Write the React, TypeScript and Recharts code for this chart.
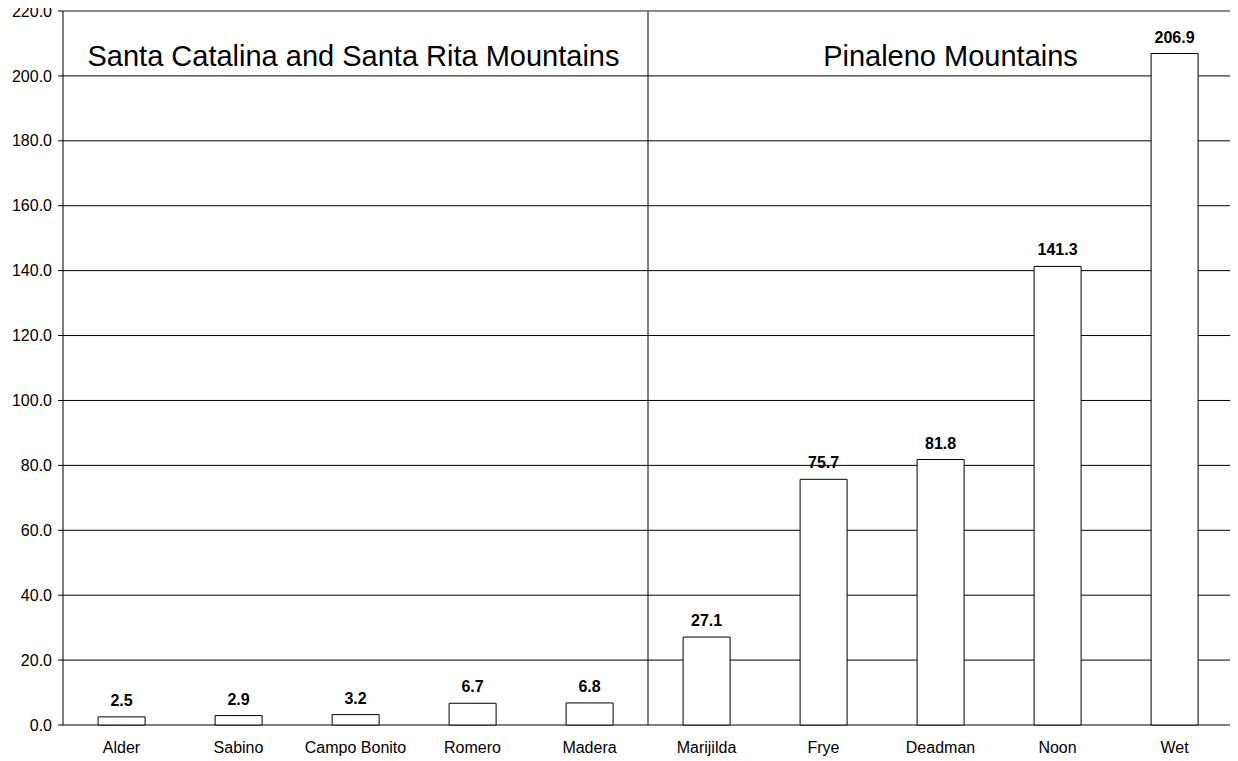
import React from 'react';
import {
  BarChart, Bar, XAxis, YAxis, CartesianGrid, ReferenceLine, ReferenceArea, LabelList,
} from 'recharts';

const categories = ['Alder', 'Sabino', 'Campo Bonito', 'Romero', 'Madera', 'Marijilda', 'Frye', 'Deadman', 'Noon', 'Wet'];
const values = [2.5, 2.9, 3.2, 6.7, 6.8, 27.1, 75.7, 81.8, 141.3, 206.9];
const yTicks = [0, 20, 40, 60, 80, 100, 120, 140, 160, 180, 200, 220];
const boundaryTicks = [0, 1, 2, 3, 4, 5, 6, 7, 8, 9, 10];
const groupTitles = ['Santa Catalina and Santa Rita Mountains', 'Pinaleno Mountains'];

const data = categories.map((name, i) => ({ name, value: values[i], order: i }));

const FONT = '"Liberation Sans", Arial, Helvetica, sans-serif';

export default function App() {
  return (
    <div style={{ width: 1238, height: 761, margin: '-8px 0 0 -8px', fontFamily: FONT }}>
      <BarChart
        width={1238}
        height={761}
        data={data}
        margin={{ top: 11, right: 5, left: 0, bottom: 6 }}
        barCategoryGap="30%"
      >
        <CartesianGrid vertical={false} stroke="#000" strokeWidth={1} xAxisId="cat" />
        <XAxis
          xAxisId="a"
          type="number"
          dataKey="order"
          domain={[0, 10]}
          ticks={boundaryTicks}
          allowDataOverflow
          height={0}
          tickFormatter={() => ''}
          tickSize={5}
          tickLine={{ stroke: '#000' }}
          axisLine={{ stroke: '#000' }}
        />
        <XAxis
          xAxisId="cat"
          dataKey="name"
          height={30}
          tickLine={false}
          axisLine={false}
          tickSize={6}
          tickMargin={11}
          interval={0}
          tick={{ fill: '#000', fontSize: 16, fontFamily: FONT }}
        />
        <YAxis
          domain={[0, 220]}
          ticks={yTicks}
          width={63}
          tickSize={5}
          tickMargin={6}
          tickFormatter={(v: number) => v.toFixed(1)}
          tick={{ fill: '#000', fontSize: 16, fontFamily: FONT }}
          tickLine={{ stroke: '#000' }}
          axisLine={{ stroke: '#000' }}
          interval={0}
        />
        <ReferenceArea
          xAxisId="a"
          x1={0}
          x2={5}
          y1={0}
          y2={220}
          fill="none"
          stroke="none"
          label={{ value: groupTitles[0], position: 'insideTop', offset: 34, fontSize: 29, fill: '#000', fontFamily: FONT, dx: -2 }}
        />
        <ReferenceArea
          xAxisId="a"
          x1={5}
          x2={10}
          y1={0}
          y2={220}
          fill="none"
          stroke="none"
          label={{ value: groupTitles[1], position: 'insideTop', offset: 34, fontSize: 29, fill: '#000', fontFamily: FONT, dx: 10 }}
        />
        <ReferenceLine xAxisId="a" x={5} stroke="#000" />
        <ReferenceLine xAxisId="a" y={220} stroke="#999" />
        <ReferenceLine xAxisId="a" x={10} stroke="#999" />
        <Bar
          xAxisId="cat"
          dataKey="value"
          fill="#fff"
          stroke="#000"
          strokeWidth={1}
          isAnimationActive={false}
        >
          <LabelList
            dataKey="value"
            position="top"
            offset={11}
            formatter={(v: number) => v.toFixed(1)}
            style={{ fontWeight: 'bold', fontSize: 16, fill: '#000', fontFamily: FONT }}
          />
        </Bar>
      </BarChart>
    </div>
  );
}
